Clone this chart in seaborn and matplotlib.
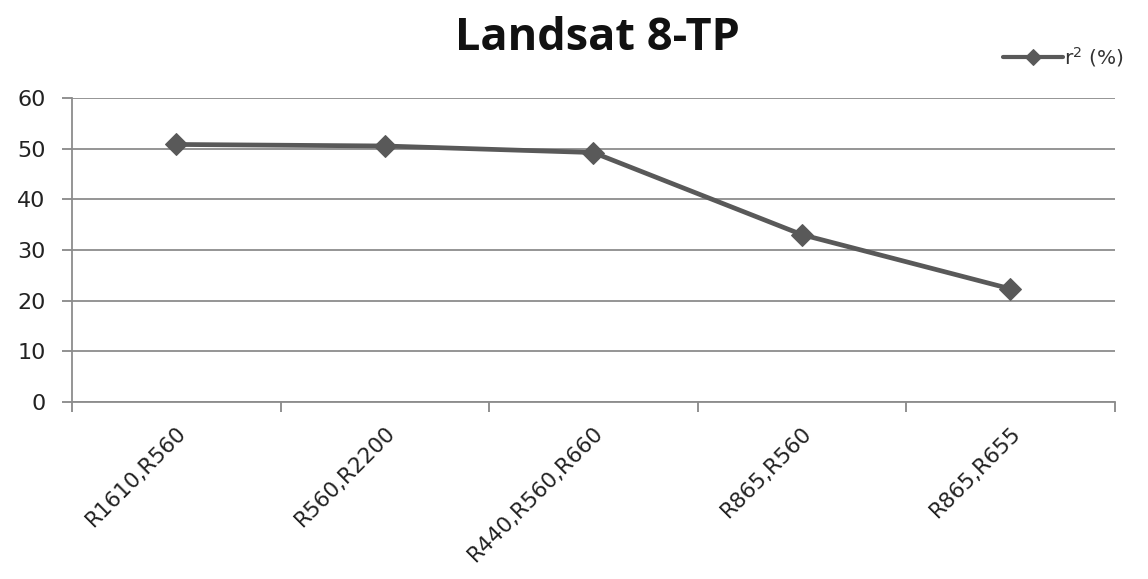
import matplotlib
matplotlib.use("Agg")
import matplotlib.pyplot as plt
import seaborn as sns
import pandas as pd
import numpy as np
from matplotlib.ticker import FixedLocator

categories = ["R1610,R560", "R560,R2200", "R440,R560,R660", "R865,R560", "R865,R655"]
r2_values = [50.8, 50.5, 49.2, 33.0, 22.3]
y_ticks = [0, 10, 20, 30, 40, 50, 60]

sns.set_theme(style="white")
plt.rcParams['font.family'] = ['DejaVu Sans']

df = pd.DataFrame({"band": categories, "r2": r2_values})

fig = plt.figure(figsize=(11.48, 5.79), dpi=100)
ax = fig.add_axes([0.0627, 0.306, 0.9083, 0.525])

line_color = "#595959"
sns.lineplot(data=df, x="band", y="r2", ax=ax, color=line_color, linewidth=3.4,
             marker="D", markersize=11, markeredgecolor=line_color,
             markerfacecolor=line_color, label="r$^{2}$ (%)", sort=False)

ax.set_xlim(-0.5, len(categories) - 0.5)
ax.set_ylim(0, 60)
ax.set_yticks(y_ticks)
ax.set_yticklabels([str(t) for t in y_ticks], fontsize=16, color="#222222",
                   family=["DejaVu Sans"])
ax.set_xticks(range(len(categories)))
ax.set_xticklabels(categories, rotation=45, ha="right", rotation_mode="anchor",
                   fontsize=15.5, color="#222222", family=["DejaVu Sans"])
ax.xaxis.set_minor_locator(FixedLocator(np.arange(-0.5, len(categories), 1.0)))
ax.tick_params(axis="x", which="major", length=0, pad=15)
ax.tick_params(axis="x", which="minor", length=7, width=1.3, color="#888888", direction="out", bottom=True)
ax.tick_params(axis="y", which="major", length=7, width=1.3, color="#888888", direction="out", left=True, pad=12)
ax.set_xlabel("")
ax.set_ylabel("")

ax.yaxis.grid(True, color="#8c8c8c", linewidth=1.3)
ax.set_axisbelow(True)
for s in ["top", "right"]:
    ax.spines[s].set_visible(False)
for s in ["left", "bottom"]:
    ax.spines[s].set_color("#8c8c8c")
    ax.spines[s].set_linewidth(1.3)

leg = ax.legend(loc="upper left", bbox_to_anchor=(0.885, 1.20), frameon=False,
                fontsize=14.5, handlelength=3.0, handletextpad=0.05, borderaxespad=0)
for h in leg.legend_handles:
    h.set_markersize(8)
    h.set_linewidth(3)
for t in leg.get_texts():
    t.set_color("#333333")

fig.text(0.52, 0.933, "Landsat 8-TP", ha="center", va="center", fontsize=32.5,
         fontweight="bold", family=["Open Sans", "DejaVu Sans"], color="#111111")

fig.savefig("out.png", dpi=100)
